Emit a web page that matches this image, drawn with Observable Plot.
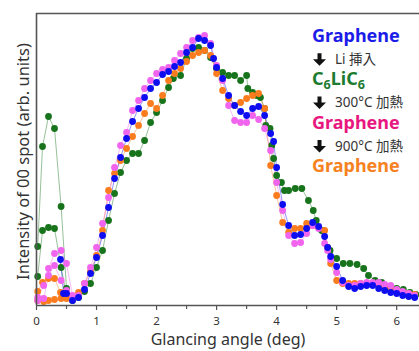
<!DOCTYPE html>
<html>
<head>
<meta charset="utf-8">
<script src="https://cdn.jsdelivr.net/npm/d3@7"></script>
<script src="https://cdn.jsdelivr.net/npm/@observablehq/plot@0.6"></script>
<style>
  body { margin: 0; background: #fff; }
  #wrap { position: relative; width: 419px; height: 351px; overflow: hidden; }
  #legend { position: absolute; left: 0; top: 0; pointer-events: none; }
</style>
</head>
<body>
<div id="wrap"><div id="chart"></div></div>
<script>
// Glancing angle (deg) vs intensity of 00 spot (arb. units)
const grapheneInitial = [[0.4,46],[0.45,12],[0.5,12],[0.6,5],[0.7,8],[0.8,16],[0.9,32],[1.0,48],[1.1,70],[1.2,98],[1.3,127],[1.4,148],[1.5,167],[1.6,184],[1.7,197],[1.8,208],[1.9,217],[2.0,223],[2.1,231],[2.2,234],[2.3,239],[2.4,243],[2.5,253],[2.6,258],[2.7,267],[2.8,265],[2.9,260],[2.95,247],[3.0,238],[3.1,227],[3.2,210],[3.3,200],[3.4,194],[3.5,190],[3.6,197],[3.7,199],[3.8,190],[3.9,172],[3.95,164],[4.0,138],[4.1,101],[4.2,80],[4.3,70],[4.4,71],[4.5,77],[4.6,83],[4.7,79],[4.8,69],[4.85,58],[4.9,49],[5.0,39],[5.1,25],[5.2,19],[5.3,17],[5.4,19],[5.5,20],[5.6,20],[5.7,17],[5.8,15],[5.9,13],[6.0,12],[6.1,10],[6.2,9],[6.3,8]];

const c6lic6 = [[0.02,59],[0.1,159],[0.2,189],[0.3,177],[0.41,99],[0.5,17],[0.6,6],[0.7,8],[0.8,14],[0.9,22],[1.0,38],[1.1,55],[1.2,85],[1.3,112],[1.4,133],[1.5,145],[1.6,152],[1.7,152],[1.8,165],[1.9,183],[2.0,193],[2.1,205],[2.2,218],[2.28,227],[2.4,230],[2.5,247],[2.6,257],[2.7,258],[2.8,255],[2.9,248],[3.0,237],[3.1,233],[3.2,230],[3.3,230],[3.4,225],[3.5,230],[3.52,217],[3.6,213],[3.67,210],[3.73,208],[3.8,197],[3.82,180],[3.89,177],[3.92,160],[3.95,147],[4.0,130],[4.08,123],[4.13,115],[4.2,115],[4.31,117],[4.42,117],[4.53,105],[4.61,95],[4.66,85],[4.75,75],[4.89,55],[5.0,47],[5.11,42],[5.22,42],[5.34,41],[5.45,37],[5.53,30],[5.64,25],[5.75,23],[5.89,18],[6.0,17],[6.11,16],[6.22,13],[6.32,11]];
const c6lic6Low = [[0.02,29],[0.1,75],[0.2,78],[0.3,77],[0.41,38],[0.5,10],[0.6,5]];

const graphene300 = [[0.02,8],[0.12,20],[0.2,37],[0.3,52],[0.41,55],[0.5,42],[0.6,10],[0.7,10],[0.8,22],[0.9,38],[1.0,58],[1.1,82],[1.2,108],[1.3,138],[1.4,160],[1.5,173],[1.6,195],[1.7,205],[1.8,217],[1.9,225],[2.0,232],[2.1,236],[2.2,238],[2.3,245],[2.4,252],[2.5,258],[2.6,265],[2.7,268],[2.8,270],[2.9,262],[3.0,240],[3.1,225],[3.2,200],[3.3,185],[3.4,183],[3.5,183],[3.6,190],[3.7,186],[3.8,177],[3.9,155],[4.0,123],[4.1,95],[4.2,70],[4.3,62],[4.4,63],[4.5,72],[4.6,80],[4.7,77],[4.8,62],[4.85,55],[4.9,46],[5.0,33],[5.1,23],[5.2,20],[5.3,20],[5.4,22],[5.5,23],[5.6,23],[5.7,23],[5.8,21],[5.9,20],[6.0,16],[6.1,14],[6.2,12],[6.3,10]];
const graphene300Low = [[0.02,5],[0.12,7],[0.2,30],[0.3,40],[0.41,25],[0.5,15],[0.6,6]];

const graphene900 = [[0.02,14],[0.1,23],[0.2,27],[0.3,27],[0.4,13],[0.5,7],[0.6,6],[0.7,13],[0.8,22],[0.9,34],[1.0,50],[1.1,75],[1.2,115],[1.3,132],[1.4,145],[1.5,157],[1.6,169],[1.7,180],[1.8,192],[1.9,202],[2.0,197],[2.1,210],[2.2,225],[2.3,232],[2.4,237],[2.5,244],[2.6,250],[2.7,253],[2.8,255],[2.9,250],[3.0,232],[3.1,215],[3.2,207],[3.3,200],[3.4,203],[3.5,207],[3.6,210],[3.7,212],[3.8,197],[3.9,140],[4.0,110],[4.1,83],[4.2,73],[4.3,77],[4.4,77],[4.5,82],[4.6,80],[4.7,78],[4.8,75],[4.85,58],[4.9,42],[5.0,25],[5.1,22],[5.2,22],[5.3,22],[5.4,22],[5.5,22],[5.6,22],[5.7,21],[5.8,19],[5.9,17],[6.0,15],[6.1,13],[6.2,12],[6.3,11]];
const graphene900Low = [[0.02,5],[0.12,4],[0.2,5],[0.3,6],[0.41,7],[0.5,9]];

const xTicks = [0, 1, 2, 3, 4, 5, 6];
const xMinorTicks = [0.5, 1.5, 2.5, 3.5, 4.5, 5.5];
const xLabel = "Glancing angle (deg)";
const yLabel = "Intensity of 00 spot (arb. units)";

const legendHeads = ["Graphene", "C6LiC6", "Graphene", "Graphene"];
const legendSteps = ["Li 挿入", "300°C 加熱", "900°C 加熱"];

const colBlue = "#0d0df0", colGreen = "#18741c", colMag = "#f064ee", colOrange = "#fa7c1e";
const headColors = ["#1c1ce8", "#1d7b30", "#e8177f", "#f6821f"];

const series = [
  {data: c6lic6, color: colGreen},
  {data: c6lic6Low, color: colGreen},
  {data: graphene900, color: colOrange},
  {data: graphene900Low, color: colOrange},
  {data: graphene300, color: colMag},
  {data: graphene300Low, color: colMag},
  {data: grapheneInitial, color: colBlue}
];

const font = "'Noto Sans', 'Noto Sans CJK JP', sans-serif";

const marks = [];
for (const s of series) {
  marks.push(Plot.line(s.data, {x: d => d[0], y: d => d[1], stroke: s.color, strokeWidth: 0.9, strokeOpacity: 0.5}));
}
for (const s of series) {
  marks.push(Plot.dot(s.data, {x: d => d[0], y: d => d[1], r: 3.4, fill: s.color, stroke: "none"}));
}

const chart = Plot.plot({
  width: 419, height: 351,
  marginLeft: 36, marginRight: 0, marginTop: 13, marginBottom: 46,
  style: {fontFamily: font, background: "white", color: "#333"},
  x: {domain: [0, 6.38], axis: null},
  y: {domain: [0, 292], axis: null},
  marks: [
    Plot.axisX({ticks: xTicks, tickSize: 5, tickPadding: 6, tickFormat: d3.format("d"), fontSize: 11.5, stroke: "#555", strokeWidth: 1.2, label: null}),
    Plot.axisX({ticks: xMinorTicks, tickSize: 4, text: null, stroke: "#555", strokeWidth: 1.2, label: null}),
    ...marks,
    Plot.ruleY([0, 292], {stroke: "#555", strokeWidth: 1.6}),
    Plot.ruleX([0], {stroke: "#555", strokeWidth: 1.6}),
    Plot.text([yLabel], {frameAnchor: "left", textAnchor: "middle", rotate: -90, dx: -13, dy: 2, fontSize: 16.5, fill: "#333"}),
    Plot.text([xLabel], {frameAnchor: "bottom", dy: 39, fontSize: 16, fill: "#333"})
  ]
});
document.getElementById("chart").appendChild(chart);

// Legend overlay (sequence of treatments)
const ns = "http://www.w3.org/2000/svg";
const lg = document.createElementNS(ns, "svg");
lg.setAttribute("id", "legend");
lg.setAttribute("width", 419);
lg.setAttribute("height", 351);
document.getElementById("wrap").appendChild(lg);

const x0 = 312, base0 = 42, step = 21.7;
function addText(x, y, str, size, weight, fill) {
  const t = document.createElementNS(ns, "text");
  t.setAttribute("x", x); t.setAttribute("y", y);
  t.setAttribute("font-family", font);
  t.setAttribute("font-size", size);
  t.setAttribute("font-weight", weight);
  t.setAttribute("fill", fill);
  lg.appendChild(t);
  if (str === "C6LiC6") {
    const parts = [["C", 0, size], ["6", 3.5, size * 0.7], ["LiC", -3.5, size], ["6", 3.5, size * 0.7]];
    for (const [p, dy, fs] of parts) {
      const ts = document.createElementNS(ns, "tspan");
      ts.setAttribute("dy", dy);
      ts.setAttribute("font-size", fs);
      ts.textContent = p;
      t.appendChild(ts);
    }
  } else {
    t.textContent = str;
  }
  return t;
}
function addArrow(b) {
  const p = document.createElementNS(ns, "path");
  const cx = 319.5;
  p.setAttribute("d", `M${cx-2},${b-10.5} L${cx+2},${b-10.5} L${cx+2},${b-4.5} L${cx+6.5},${b-4.5} L${cx},${b+2} L${cx-6.5},${b-4.5} L${cx-2},${b-4.5} Z`);
  p.setAttribute("fill", "#111");
  lg.appendChild(p);
}
for (let i = 0; i < 7; i++) {
  const b = base0 + i * step;
  if (i % 2 === 0) {
    addText(x0, b, legendHeads[i / 2], 18, "bold", headColors[i / 2]);
  } else {
    addArrow(b);
    addText(335, b, legendSteps[(i - 1) / 2], 13.5, "normal", "#333");
  }
}
</script>
</body>
</html>
